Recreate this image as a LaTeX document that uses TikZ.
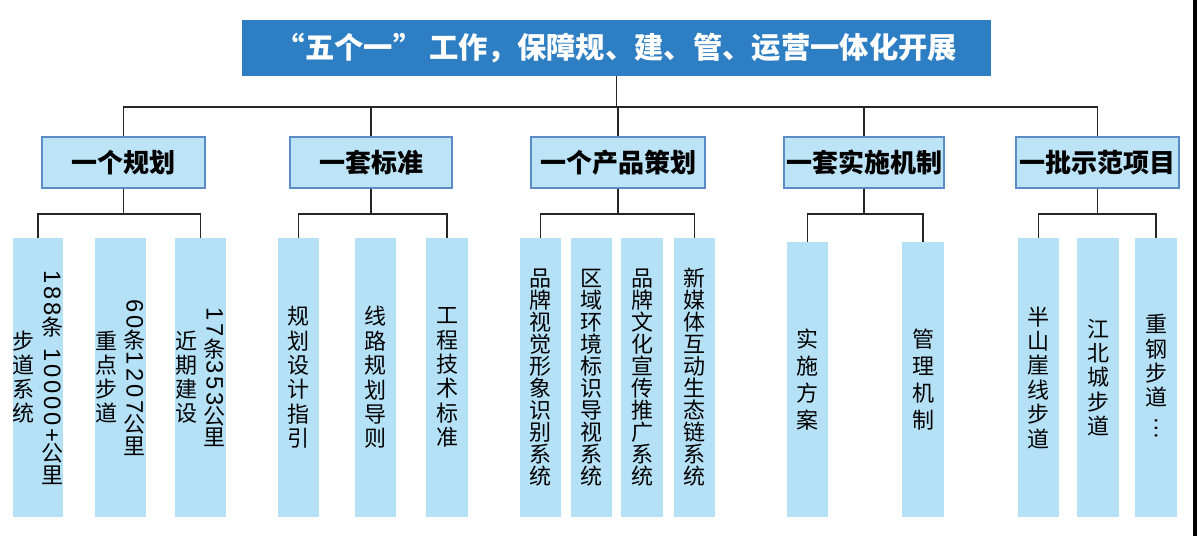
\documentclass[tikz,border=0pt]{standalone}
\usepackage{fontspec}
\setmainfont{Noto Sans CJK SC}
\newfontfamily\numfont{Liberation Sans}[LetterSpace=12]
\usepackage{tikz}
\usetikzlibrary{positioning}
\definecolor{titleblue}{HTML}{2E7EC3}
\definecolor{catfill}{HTML}{BDE3F6}
\definecolor{catline}{HTML}{5B8CC6}
\definecolor{leaffill}{HTML}{B5E1F7}
\newcommand{\turnnum}[1]{\rotatebox[origin=c]{-90}{\fontsize{17.8}{20}\numfont #1}}
\newcommand{\vcol}[2][18pt]{\parbox[c]{16.5pt}{\centering\baselineskip=#1 #2}}

\begin{document}
\begin{tikzpicture}[x=0.75pt, y=-0.75pt,
    titlebox/.style={fill=titleblue, text=white, inner sep=0pt,
        minimum width=561.75pt, minimum height=42pt,
        font=\bfseries\fontsize{22}{24}\selectfont},
    catbox/.style={fill=catfill, draw=catline, line width=0.8pt, inner sep=0pt,
        minimum height=38.25pt, font=\bfseries\fontsize{19.5}{22}\selectfont},
    leaf/.style={fill=leaffill, inner sep=0pt, minimum width=31pt,
        minimum height=209.25pt, font=\fontsize{16.5}{18}\selectfont},
    leafwide/.style={leaf, minimum width=38pt},
    link/.style={line width=1pt, black!85}]
    \useasboundingbox (0,0) rectangle (1198,536);

    % Title
    \node[titlebox] (top) at (616.5,48) {“五个一” 工作，保障规、建、管、运营一体化开展};

    % Categories
    \node[catbox, minimum width=122.25pt] (c1) at (123.5,162.5) {一个规划};
    \node[catbox, minimum width=121.5pt]  (c2) at (371,162.5)   {一套标准};
    \node[catbox, minimum width=130.5pt]  (c3) at (618,162.5)   {一个产品策划};
    \node[catbox, minimum width=120pt]    (c4) at (864,162.5)   {一套实施机制};
    \node[catbox, minimum width=122.25pt] (c5) at (1097.5,162.5) {一批示范项目};

    % Leaves
    \node[leafwide] (l11) at (38,377.5)
        {\vcol{步\\道\\系\\统}\hspace{5pt}\vcol[16pt]{\turnnum{188}\\条\\\turnnum{\ 10000+}\\公\\里}};
    \node[leafwide] (l12) at (120.5,377.5)
        {\vcol{重\\点\\步\\道}\hspace{5pt}\vcol[16pt]{\turnnum{60}\\条\\\turnnum{1207}\\公\\里}};
    \node[leafwide] (l13) at (200.5,377.5)
        {\vcol{近\\期\\建\\设}\hspace{5pt}\vcol[16pt]{\turnnum{17}\\条\\\turnnum{353}\\公\\里}};

    \node[leaf] (l21) at (298.5,377.5) {\vcol[18.3pt]{规\\划\\设\\计\\指\\引}};
    \node[leaf] (l22) at (375.5,377.5) {\vcol[18.3pt]{线\\路\\规\\划\\导\\则}};
    \node[leaf] (l23) at (447,377.5)   {\vcol[18.3pt]{工\\程\\技\\术\\标\\准}};

    \node[leaf] (l31) at (540.5,377.5) {\vcol[16.5pt]{品\\牌\\视\\觉\\形\\象\\识\\别\\系\\统}};
    \node[leaf] (l32) at (591.5,377.5) {\vcol[16.5pt]{区\\域\\环\\境\\标\\识\\导\\视\\系\\统}};
    \node[leaf] (l33) at (642,377.5)   {\vcol[16.5pt]{品\\牌\\文\\化\\宣\\传\\推\\广\\系\\统}};
    \node[leaf] (l34) at (694.5,377.5) {\vcol[16.5pt]{新\\媒\\体\\互\\动\\生\\态\\链\\系\\统}};

    \node[leaf, minimum height=206.25pt] (l41) at (807.5,379.5) {\vcol[20.25pt]{实\\施\\方\\案}};
    \node[leaf, minimum height=206.25pt] (l42) at (923,379.5)   {\vcol[20.25pt]{管\\理\\机\\制}};

    \node[leaf] (l51) at (1038.5,377.5) {\vcol[18.3pt]{半\\山\\崖\\线\\步\\道}};
    \node[leaf] (l52) at (1098,377.5)   {\vcol[18.2pt]{江\\北\\城\\步\\道}};
    \node[leaf] (l53) at (1156,377.5)   {\vcol[18.2pt]{重\\钢\\步\\道\\\turnnum{…}}};

    % Connectors
    \coordinate (bus) at (0,107);
    \coordinate (sub) at (0,214);
    \foreach \c in {c1,c2,c3,c4,c5}
        \draw[link] (top.south) |- (bus -| \c.north) -- (\c.north);
    \foreach \c/\l in {c1/l11, c1/l13, c2/l21, c2/l23, c3/l31, c3/l34,
                       c4/l41, c4/l42, c5/l51, c5/l53}
        \draw[link] (\c.south) |- (sub -| \l.north) -- (\l.north);

    % Edge bar
    \fill[black] (1193,0) rectangle (1197,536);
\end{tikzpicture}
\end{document}
